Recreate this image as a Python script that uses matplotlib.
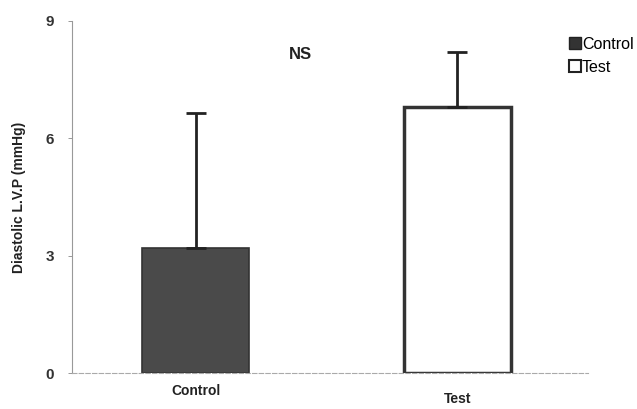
import matplotlib
matplotlib.use("Agg")
import matplotlib.pyplot as plt
import matplotlib.transforms as mtransforms
from matplotlib.lines import Line2D

categories = ["Control", "Test"]
means = [3.2, 6.8]
errors_up = [3.45, 1.4]
yticks = [0, 3, 6, 9]

plt.rcParams['font.family'] = ['Liberation Sans', 'DejaVu Sans']

fig = plt.figure(figsize=(6.37, 4.09), dpi=100)
ax = fig.add_axes([0.113, 0.088, 0.81, 0.861])

x = list(range(len(categories)))
colors = ["#4a4a4a", "white"]
edges = ["#333333", "#333333"]
lws = [1.2, 2.5]
for i in x:
    ax.bar(x[i], means[i], width=0.41, color=colors[i], edgecolor=edges[i],
           linewidth=lws[i], zorder=2)
    ax.errorbar(x[i], means[i], yerr=[[0], [errors_up[i]]], fmt="none",
                ecolor="#222222", elinewidth=2, capsize=7, capthick=2, zorder=3)

ax.set_xlim(-0.474, 1.5)
ax.set_ylim(0, 9)
ax.set_yticks(yticks)
ax.set_yticklabels([str(t) for t in yticks], fontsize=11, fontweight="bold", color="#333333")
ax.set_xticks(x)
ax.set_xticklabels(categories, fontsize=10, fontweight="bold", color="#222222")
ax.tick_params(axis="x", length=0, pad=8)
ax.tick_params(axis="y", length=3, width=0.6, color="#888888", pad=10)
labs = ax.get_xticklabels()
off = mtransforms.ScaledTranslation(0, -8/100, fig.dpi_scale_trans)
labs[1].set_transform(labs[1].get_transform() + off)

for s in ["top", "right"]:
    ax.spines[s].set_visible(False)
ax.spines["left"].set_color("#999999")
ax.spines["left"].set_linewidth(0.8)
ax.spines["bottom"].set_color("#aaaaaa")
ax.spines["bottom"].set_linewidth(0.8)
ax.spines["bottom"].set_linestyle((0, (4, 2)))

ax.set_ylabel("Diastolic L.V.P (mmHg)", fontsize=10, fontweight="bold", color="#222222", labelpad=14)

ax.text(0.443, 0.905, "NS", transform=ax.transAxes, fontsize=12, fontweight="bold",
        color="#222222", ha="center", va="center")

handles = [Line2D([], [], marker="s", linestyle="none", markersize=8,
                  markerfacecolor="#333333", markeredgecolor="#222222"),
           Line2D([], [], marker="s", linestyle="none", markersize=8,
                  markerfacecolor="white", markeredgecolor="#222222", markeredgewidth=1.5)]
fig.legend(handles, categories, loc="upper left", bbox_to_anchor=(0.882, 0.925),
           frameon=False, fontsize=11.5, handletextpad=0.05, handlelength=0.8,
           labelspacing=0.5, borderaxespad=0)

fig.savefig("out.png", dpi=100, facecolor="white")
